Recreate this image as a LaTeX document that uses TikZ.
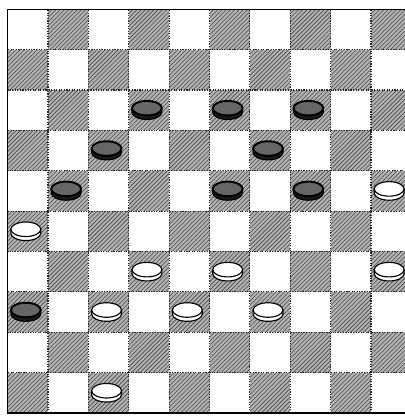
\documentclass[tikz,border=0pt]{standalone}
\usepackage{tikz}
\usetikzlibrary{shapes.geometric,patterns}
\definecolor{sqgray}{RGB}{178,178,178}
\tikzset{
  darksq/.style={fill=sqgray, postaction={pattern=north east lines, pattern color=black!70}},
  sqedge/.style={densely dotted, thick, black!85},
  mantop/.style={ellipse, draw, thick, minimum width=0.74cm, minimum height=0.36cm, inner sep=0pt},
  whitetop/.style={mantop, fill=white},
  blacktop/.style={mantop, fill=black!60, draw=black, line width=1.4pt},
  whitebody/.style={draw, thick, fill=white},
  blackbody/.style={draw, thick, fill=black!90},
}
\begin{document}
\begin{tikzpicture}
  \useasboundingbox (-0.19,-0.15) rectangle (9.84,10.23);
  % dark squares
  \foreach \r in {0,...,9}
    \foreach \c in {0,...,9} {
      \pgfmathtruncatemacro\odd{mod(\r+\c,2)}
      \ifnum\odd=1
        \fill[darksq] (\c,9-\r) rectangle ++(1,1);
        \draw[sqedge] (\c,9-\r) rectangle ++(1,1);
      \fi
    }
  % board edge
  \draw[thick] (0,0) rectangle (10,10);
  % black men
  \foreach \c/\r [count=\i] in {3/2,5/2,7/2,2/3,6/3,1/4,5/4,7/4,0/7} {
    \coordinate (pb\i) at (\c+0.45,9.55-\r);
    \filldraw[blackbody] (pb\i) ++(-0.37,0) -- ++(0,-0.1) arc (180:360:0.37 and 0.18) -- ++(0,0.1) -- cycle;
    \node[blacktop] (b\i) at (pb\i) {};
  }
  % white men
  \foreach \c/\r [count=\i] in {9/4,0/5,3/6,5/6,9/6,2/7,4/7,6/7,2/9} {
    \coordinate (pw\i) at (\c+0.45,9.55-\r);
    \filldraw[whitebody] (pw\i) ++(-0.37,0) -- ++(0,-0.1) arc (180:360:0.37 and 0.18) -- ++(0,0.1) -- cycle;
    \node[whitetop] (w\i) at (pw\i) {};
  }
\end{tikzpicture}
\end{document}
